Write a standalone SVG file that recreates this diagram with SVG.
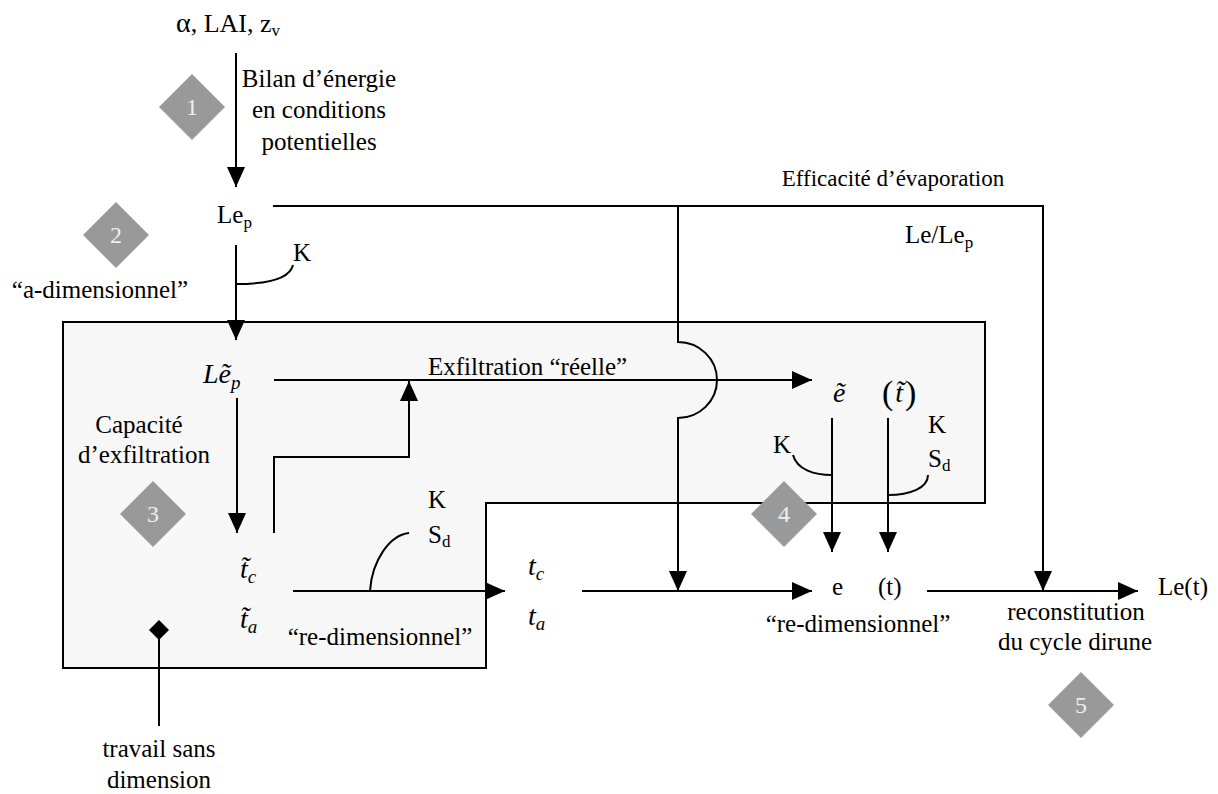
<svg xmlns="http://www.w3.org/2000/svg" width="1218" height="794" viewBox="0 0 1218 794">
<defs>
<marker id="ah" viewBox="0 0 20 18" refX="20" refY="9" markerWidth="20" markerHeight="18" markerUnits="userSpaceOnUse" orient="auto"><path d="M0,0 L20,9 L0,18 z" fill="#000"/></marker>
</defs>
<style>
text{font-family:"Liberation Serif","Times New Roman",serif;font-size:25px;fill:#000}
.m{font-style:italic;font-size:28px}
.c{text-anchor:middle}
.sub{font-size:17px}
.msub{font-size:19px}
.ln{fill:none;stroke:#000;stroke-width:2}
.ar{marker-end:url(#ah)}
.dia{fill:#999999}
.num{fill:#eeeeee;font-size:24px;text-anchor:middle}
</style>
<rect width="1218" height="794" fill="#fff"/>
<g id="box"><path d="M63,322 H985 V503 H486 V668 H63 Z" fill="#f7f7f7" stroke="#000" stroke-width="2"/></g>

<g id="connectors">
<path class="ln ar" d="M236,53 V187"/>
<path class="ln ar" d="M236,245 V340"/>
<path class="ln" d="M236,284 C270,284 290,278 293,265"/>
<path class="ln ar" d="M273,206 H1043 V591"/>
<path class="ln ar" d="M678,206 V342 A39,38 0 0 1 678,418 V591"/>
<path class="ln ar" d="M237,398 V533"/>
<path class="ln ar" d="M274,533 V457 H409 V381"/>
<path class="ln ar" d="M274,380 H812"/>
<path class="ln ar" d="M293,591 H505"/>
<path class="ln" d="M370,591 C372,560 390,535 409,533"/>
<path class="ln ar" d="M582,591 H812"/>
<path class="ln ar" d="M832,418 V552"/>
<path class="ln ar" d="M888,418 V552"/>
<path class="ln" d="M793,455 C797,470 815,475 832,475"/>
<path class="ln" d="M888,495 C910,495 928,488 928,475"/>
<path class="ln ar" d="M927,591 H1138"/>
<path class="ln" d="M159,630 V726"/>
<path d="M159,620 L169,630 L159,640 L149,630 Z" fill="#000"/>
</g>

<g id="d1"><path class="dia" d="M192,74 L225,107 L192,140 L159,107 Z"/><text class="num" x="192" y="115">1</text></g>
<g id="d2"><path class="dia" d="M116,202 L149,235 L116,268 L83,235 Z"/><text class="num" x="116" y="243">2</text></g>
<g id="d3"><path class="dia" d="M153,481 L186,514 L153,547 L120,514 Z"/><text class="num" x="153" y="522">3</text></g>
<g id="d4"><path class="dia" d="M784,481 L817,514 L784,547 L751,514 Z"/><text class="num" x="784" y="522">4</text></g>
<g id="d5"><path class="dia" d="M1081,672 L1114,705 L1081,738 L1048,705 Z"/><text class="num" x="1081" y="713">5</text></g>

<g id="inputs"><text x="176" y="32" style="font-size:26px"><tspan style="font-size:28px">α</tspan>, LAI, z<tspan class="sub" dy="4">v</tspan></text></g>
<g id="bilan">
<text class="c" x="319" y="87">Bilan d’énergie</text>
<text class="c" x="319" y="118">en conditions</text>
<text class="c" x="319" y="150">potentielles</text>
</g>
<g id="lep"><text x="217" y="223">Le<tspan class="sub" dy="5">p</tspan></text></g>
<g id="k1"><text x="293" y="261">K</text></g>
<g id="adim"><text class="c" x="100" y="298">“a-dimensionnel”</text></g>
<g id="eff">
<text class="c" x="893" y="186" style="font-size:23px">Efficacité d’évaporation</text>
<text x="905" y="243">Le/Le<tspan class="sub" dy="5">p</tspan></text>
</g>
<g id="letp">
<text class="m" x="203" y="383">Lẽ<tspan class="msub" dy="6">p</tspan></text>
</g>
<g id="exf"><text x="428" y="375">Exfiltration “réelle”</text></g>
<g id="cap">
<text class="c" x="139" y="433">Capacité</text>
<text class="c" x="144" y="463">d’exfiltration</text>
</g>
<g id="ttilde">
<text class="m" x="240" y="578">t̃<tspan class="msub" dy="5">c</tspan></text>
<text class="m" x="240" y="628">t̃<tspan class="msub" dy="5">a</tspan></text>
</g>
<g id="ksd1">
<text x="428" y="508">K</text>
<text x="428" y="543">S<tspan class="sub" dy="4">d</tspan></text>
</g>
<g id="redim1"><text class="c" x="380" y="645">“re-dimensionnel”</text></g>
<g id="tcta">
<text class="m" x="528" y="575">t<tspan class="msub" dy="5">c</tspan></text>
<text class="m" x="528" y="625">t<tspan class="msub" dy="5">a</tspan></text>
</g>
<g id="etilde">
<text class="m" x="833" y="402">ẽ</text>
<text x="882" y="404" style="font-size:34px">(<tspan class="m" dy="-2" dx="2">t̃</tspan><tspan dy="2" dx="2">)</tspan></text>
</g>
<g id="k2"><text x="773" y="453">K</text></g>
<g id="ksd2">
<text x="928" y="433">K</text>
<text x="928" y="467">S<tspan class="sub" dy="4">d</tspan></text>
</g>
<g id="et"><text x="832" y="595">e</text><text x="878" y="595">(t)</text></g>
<g id="redim2"><text class="c" x="858" y="632">“re-dimensionnel”</text></g>
<g id="let"><text x="1158" y="595">Le(t)</text></g>
<g id="recon">
<text class="c" x="1076" y="620">reconstitution</text>
<text class="c" x="1075" y="650">du cycle dirune</text>
</g>
<g id="travail">
<text class="c" x="159" y="757">travail sans</text>
<text class="c" x="159" y="788">dimension</text>
</g>
</svg>
